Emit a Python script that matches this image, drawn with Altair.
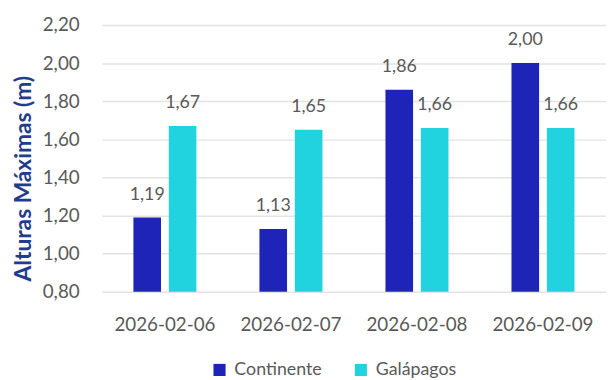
import altair as alt
import pandas as pd

dates = ["2026-02-06", "2026-02-07", "2026-02-08", "2026-02-09"]
continente = [1.19, 1.13, 1.86, 2.00]
galapagos = [1.67, 1.65, 1.66, 1.66]
series = ["Continente", "Galápagos"]
colors = ["#1E24B8", "#20D3DF"]
yticks = [0.8, 1.0, 1.2, 1.4, 1.6, 1.8, 2.0, 2.2]

rows = []
for d, c, g in zip(dates, continente, galapagos):
    rows.append({"fecha": d, "serie": series[0], "valor": c})
    rows.append({"fecha": d, "serie": series[1], "valor": g})
df = pd.DataFrame(rows)

FONT = "Lato"
GRAY = "#595959"

x = alt.X("fecha:N", title=None,
          scale=alt.Scale(paddingInner=0.5, paddingOuter=0.25),
          axis=alt.Axis(labelAngle=0, labelPadding=24, ticks=False, domain=False,
                        labelFont=FONT, labelFontSize=19, labelColor=GRAY))
xo = alt.XOffset("serie:N", sort=series, scale=alt.Scale(paddingInner=0.22, paddingOuter=0))
y = alt.Y("valor:Q", title="Alturas Máximas (m)",
          scale=alt.Scale(domain=[0.8, 2.2], zero=False, nice=False),
          axis=alt.Axis(values=yticks, labelOverlap=False, tickCount=8,
                        labelExpr="replace(format(datum.value, '.2f'), '.', ',')",
                        ticks=False, domain=False, labelPadding=23,
                        gridColor="#E3E3E3", gridWidth=1.5,
                        labelFont=FONT, labelFontSize=19, labelColor=GRAY,
                        titleFont=FONT, titleFontSize=23, titleFontWeight="bold",
                        titleColor="#1F3C8F", titlePadding=7, titleY=155))

base = alt.Chart(df)

bars = base.mark_bar().encode(
    x=x, xOffset=xo, y=y,
    y2=alt.datum(0.8),
    color=alt.Color("serie:N", sort=series,
                    scale=alt.Scale(domain=series, range=colors),
                    legend=alt.Legend(title=None, orient="none", legendX=110, legendY=340,
                                      direction="horizontal",
                                      symbolType="square", symbolSize=150,
                                      symbolStrokeWidth=0, labelOffset=6,
                                      labelFont=FONT, labelFontSize=18, labelColor=GRAY,
                                      columnPadding=30)),
)

labels = base.transform_calculate(
    lbl="replace(format(datum.valor, '.2f'), '.', ',')"
).mark_text(dy=-23, baseline="middle", font=FONT, fontSize=18, color=GRAY).encode(
    x=x, xOffset=xo, y=y, text="lbl:N"
)

chart = (bars + labels).properties(
    width=510, height=270,
    autosize=alt.AutoSizeParams(type="none"),
    padding={"left": 95, "top": 15, "right": 0, "bottom": 85},
).configure_view(stroke=None)

chart.save("out.html", embed_options={"renderer": "svg", "actions": False})
